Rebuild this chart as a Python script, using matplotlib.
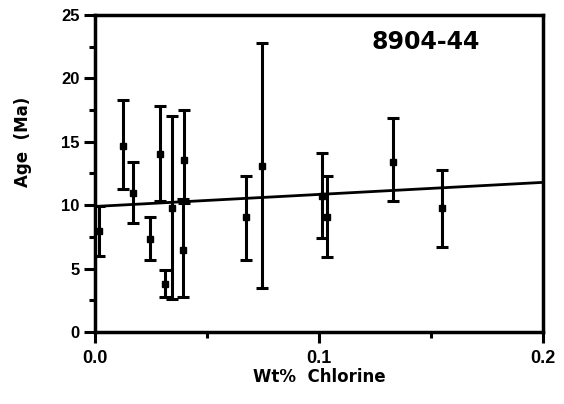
import numpy as np
import matplotlib.pyplot as plt
from matplotlib.ticker import MultipleLocator

plt.rcParams['font.family'] = ['Liberation Sans', 'DejaVu Sans']
plt.rcParams['font.weight'] = 'bold'

# Wt% chlorine, age (Ma) and error bar ends
chlorine = [0.002, 0.0127, 0.0171, 0.0246, 0.029, 0.0312, 0.0345, 0.0394,
            0.0399, 0.0673, 0.0744, 0.1015, 0.1034, 0.1329, 0.1548]
age = [8.0, 14.7, 11.0, 7.3, 14.0, 3.8, 9.8, 6.5,
       13.6, 9.1, 13.1, 10.7, 9.1, 13.4, 9.8]
age_hi = [9.9, 18.3, 13.4, 9.1, 17.8, 4.9, 17.0, 10.5,
          17.5, 12.3, 22.8, 14.1, 12.3, 16.9, 12.8]
age_lo = [6.0, 11.3, 8.6, 5.7, 10.3, 2.8, 2.6, 2.8,
          10.2, 5.7, 3.5, 7.4, 5.9, 10.3, 6.7]

# regression line end points
fit_x = [0.0, 0.2]
fit_y = [9.9, 11.8]

age = np.array(age)
yerr = [age - np.array(age_lo), np.array(age_hi) - age]

fig = plt.figure(figsize=(5.64, 4.04), dpi=100)
ax = fig.add_axes([0.1684, 0.1782, 0.7944, 0.7847])

ax.errorbar(chlorine, age, yerr=yerr, fmt='s', color='black', ms=5,
            elinewidth=2.2, capsize=4.2, capthick=2.2)
ax.plot(fit_x, fit_y, color='black', lw=2)

ax.set_xlim(0, 0.2)
ax.set_ylim(0, 25)
ax.xaxis.set_major_locator(MultipleLocator(0.1))
ax.xaxis.set_minor_locator(MultipleLocator(0.05))
ax.yaxis.set_major_locator(MultipleLocator(5))
ax.yaxis.set_minor_locator(MultipleLocator(2.5))
ax.xaxis.set_major_formatter(plt.FormatStrFormatter('%.1f'))

for s in ax.spines.values():
    s.set_linewidth(2.5)
ax.tick_params(which='major', direction='out', length=8, width=2.2)
ax.tick_params(which='minor', direction='out', length=4, width=2.2)
ax.tick_params(axis='x', labelsize=13, pad=5)
ax.tick_params(axis='y', labelsize=12, pad=3)

ax.set_xlabel('Wt%  Chlorine', fontsize=12, fontweight='bold', labelpad=1,
              family='DejaVu Sans')
ax.set_ylabel('Age  (Ma)', fontsize=12, fontweight='bold', family='DejaVu Sans')
ax.yaxis.set_label_coords(-0.14, 0.6)

ax.text(0.1475, 22.9, '8904-44', fontsize=17, fontweight='bold',
        ha='center', va='center', family='DejaVu Sans')

fig.savefig('out.png', dpi=100)
